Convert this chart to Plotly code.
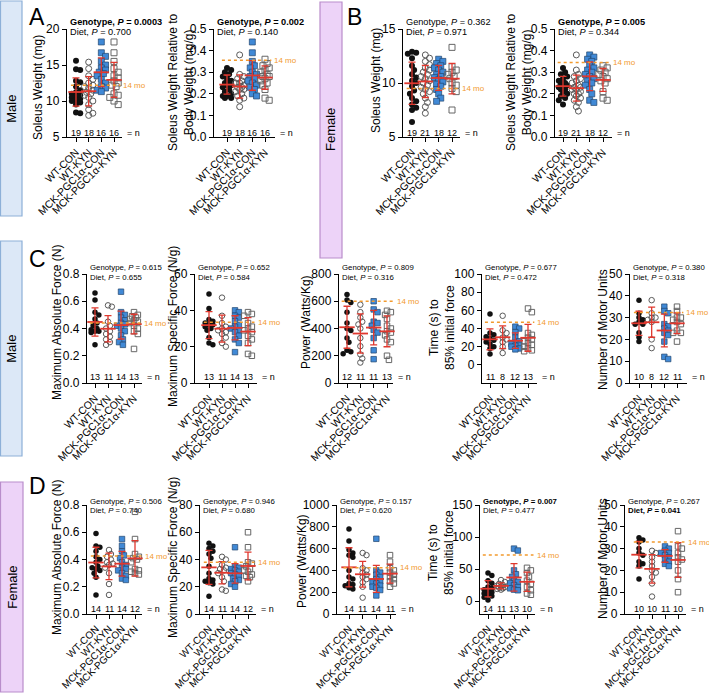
import numpy as np
import plotly.graph_objects as go

W, H = 709, 694
FONT = "Arial, Liberation Sans, sans-serif"
groups = ["WT-CON", "WT-KYN", "MCK-PGC1α-CON", "MCK-PGC1α-KYN"]

# ---------------- data ----------------
male_soleus_mg = [
    [15.6, 14.4, 14.3, 12.8, 12.6, 12.0, 11.5, 11.2, 11.0, 10.8, 10.6, 10.5, 10.3, 10.1, 10.0, 9.8, 9.5, 8.4, 8.3],
    [15.4, 14.5, 13.5, 13.0, 12.5, 12.2, 12.0, 11.8, 11.5, 11.2, 11.0, 10.8, 10.5, 10.0, 9.5, 8.8, 8.3, 8.0],
    [18.2, 16.7, 16.2, 15.5, 15.0, 14.6, 14.3, 14.0, 13.8, 13.5, 13.0, 12.5, 12.0, 11.8, 11.5, 11.3],
    [18.2, 16.7, 15.5, 14.5, 14.0, 13.5, 13.2, 12.8, 12.5, 12.2, 12.0, 11.0, 10.8, 10.5, 10.0, 9.5],
]
male_soleus_rel = [
    [0.32, 0.31, 0.30, 0.29, 0.28, 0.27, 0.26, 0.25, 0.25, 0.24, 0.24, 0.23, 0.22, 0.21, 0.20, 0.19, 0.19, 0.18, 0.18],
    [0.38, 0.29, 0.28, 0.27, 0.26, 0.25, 0.25, 0.24, 0.23, 0.23, 0.22, 0.22, 0.21, 0.20, 0.19, 0.18, 0.17, 0.14],
    [0.44, 0.39, 0.35, 0.33, 0.32, 0.30, 0.29, 0.28, 0.27, 0.26, 0.25, 0.24, 0.23, 0.22, 0.20, 0.19],
    [0.36, 0.34, 0.33, 0.32, 0.31, 0.30, 0.29, 0.28, 0.28, 0.27, 0.26, 0.25, 0.24, 0.22, 0.18, 0.17],
]
female_soleus_mg = [
    [12.9, 12.8, 12.7, 12.3, 11.6, 11.2, 10.8, 10.5, 10.2, 10.0, 9.7, 9.3, 9.0, 8.6, 8.3, 8.0, 7.7, 7.5, 6.4],
    [12.6, 12.3, 12.0, 11.7, 11.4, 11.2, 11.0, 10.8, 10.6, 10.4, 10.2, 10.0, 9.8, 9.6, 9.4, 9.2, 9.0, 8.6, 8.2, 7.8, 7.2],
    [12.2, 12.0, 11.8, 11.6, 11.4, 11.2, 11.0, 10.8, 10.6, 10.5, 10.3, 10.1, 9.9, 9.7, 9.4, 9.0, 8.6, 8.3],
    [13.3, 11.5, 11.2, 11.0, 10.8, 10.6, 10.4, 10.0, 9.8, 9.5, 9.2, 7.5],
]
female_soleus_rel = [
    [0.32, 0.30, 0.29, 0.28, 0.27, 0.26, 0.25, 0.25, 0.24, 0.24, 0.23, 0.22, 0.22, 0.21, 0.20, 0.19, 0.18, 0.17, 0.15],
    [0.38, 0.31, 0.29, 0.28, 0.27, 0.26, 0.25, 0.24, 0.23, 0.23, 0.22, 0.22, 0.21, 0.20, 0.20, 0.19, 0.18, 0.17, 0.16, 0.14, 0.12],
    [0.38, 0.37, 0.36, 0.35, 0.33, 0.32, 0.31, 0.30, 0.29, 0.28, 0.27, 0.26, 0.25, 0.24, 0.22, 0.20, 0.17, 0.16],
    [0.33, 0.32, 0.31, 0.30, 0.29, 0.28, 0.27, 0.26, 0.25, 0.21, 0.18, 0.17],
]
male_abs_force = [
    [0.66, 0.61, 0.50, 0.52, 0.47, 0.44, 0.42, 0.40, 0.39, 0.38, 0.38, 0.37, 0.28],
    [0.57, 0.56, 0.45, 0.42, 0.40, 0.38, 0.36, 0.34, 0.32, 0.30, 0.28],
    [0.67, 0.52, 0.50, 0.48, 0.46, 0.44, 0.43, 0.42, 0.40, 0.38, 0.35, 0.32, 0.30, 0.28],
    [0.52, 0.50, 0.49, 0.48, 0.47, 0.46, 0.45, 0.44, 0.42, 0.40, 0.38, 0.36, 0.25],
]
male_spec_force = [
    [49, 41, 35, 34, 33, 32, 32, 31, 30, 29, 25, 22, 21],
    [47, 37, 33, 31, 30, 29, 28, 27, 25, 22, 20],
    [40, 39, 37, 36, 34, 32, 31, 30, 29, 28, 26, 24, 22, 17],
    [39, 38, 37, 33, 31, 30, 29, 28, 26, 24, 22, 16, 15],
]
male_power = [
    [650, 610, 590, 520, 440, 400, 385, 330, 300, 240, 230, 215],
    [575, 520, 480, 450, 430, 400, 330, 270, 210, 180, 150],
    [600, 540, 520, 450, 440, 420, 390, 370, 330, 240, 175],
    [530, 520, 500, 470, 420, 400, 380, 370, 350, 320, 300, 200, 170],
]
male_time85 = [
    [56, 35, 33, 31, 29, 27, 25, 23, 20, 18, 12],
    [54, 38, 35, 30, 28, 25, 20, 13],
    [42, 40, 36, 30, 26, 24, 23, 22, 21, 20, 18, 17],
    [62, 58, 35, 33, 30, 28, 26, 24, 22, 20, 18, 16, 15],
]
male_motor_units = [
    [38, 32, 30, 29, 28, 27, 27, 23, 21, 19],
    [38, 32, 30, 30, 29, 28, 20, 16],
    [35, 33, 32, 27, 26, 25, 24, 23, 22, 19, 12, 11],
    [35, 33, 30, 30, 29, 28, 27, 24, 23, 23, 19],
]
female_abs_force = [
    [0.59, 0.50, 0.49, 0.46, 0.42, 0.40, 0.38, 0.35, 0.34, 0.33, 0.32, 0.30, 0.27, 0.14],
    [0.47, 0.44, 0.42, 0.40, 0.38, 0.37, 0.36, 0.34, 0.30, 0.22, 0.14],
    [0.55, 0.50, 0.46, 0.43, 0.41, 0.38, 0.36, 0.34, 0.33, 0.32, 0.30, 0.28, 0.26, 0.25],
    [0.75, 0.55, 0.44, 0.42, 0.41, 0.40, 0.38, 0.33, 0.32, 0.31, 0.30, 0.29],
]
female_spec_force = [
    [52, 50, 48, 46, 44, 41, 35, 30, 26, 25, 24, 23, 22, 13],
    [42, 40, 36, 34, 33, 32, 30, 27, 24, 18, 17],
    [49, 35, 34, 33, 32, 31, 30, 29, 28, 26, 25, 24, 22, 20],
    [60, 49, 38, 37, 35, 33, 32, 31, 29, 28, 27, 24],
]
female_power = [
    [780, 670, 590, 560, 540, 520, 400, 340, 320, 280, 270, 260, 240, 230],
    [560, 540, 420, 400, 380, 360, 340, 320, 290, 250, 150],
    [690, 400, 380, 360, 340, 320, 300, 290, 280, 260, 250, 240, 220, 170],
    [540, 480, 420, 400, 380, 360, 340, 320, 300, 280, 250],
]
female_time85 = [
    [44, 40, 32, 28, 22, 20, 18, 16, 14, 12, 10, 8, 6, 2],
    [33, 30, 27, 25, 24, 23, 22, 21, 20, 19, 18],
    [82, 79, 48, 42, 38, 32, 30, 28, 25, 22, 20, 18, 17],
    [52, 48, 44, 38, 32, 27, 22, 17, 12, 10],
]
female_motor_units = [
    [35, 34, 33, 30, 28, 27, 24, 23, 22, 16],
    [29, 28, 26, 24, 22, 20, 19, 17, 14, 8],
    [31, 30, 29, 28, 28, 27, 26, 25, 24, 23, 22],
    [38, 31, 30, 28, 26, 25, 24, 20, 16, 10],
]

ref_14mo = [12.2, 0.355, 9.5, 0.345, 0.44, 33.5, 600, 47, 32.3, 0.425, 38, 425, 72, 33]
p_genotype = ["0.0003", "0.002", "0.362", "0.005", "0.615", "0.652", "0.809", "0.677", "0.380",
              "0.506", "0.946", "0.157", "0.007", "0.267"]
p_diet = ["0.700", "0.140", "0.971", "0.344", "0.655", "0.584", "0.316", "0.472", "0.318",
          "0.740", "0.680", "0.620", "0.477", "0.041"]
genotype_bold = [True, True, False, True, False, False, False, False, False, False, False, False, True, False]
diet_bold = [False] * 13 + [True]
y_titles = ["Soleus Weight (mg)", "Soleus Weight Relative to<br>Body Weight (mg/g)",
            "Soleus Weight (mg)", "Soleus Weight Relative to<br>Body Weight (mg/g)",
            "Maximum Absolute Force (N)", "Maximum Specific Force (N/g)", "Power (Watts/Kg)",
            "Time (s) to<br>85% initial force", "Number of Motor Units",
            "Maximum Absolute Force (N)", "Maximum Specific Force (N/g)", "Power (Watts/Kg)",
            "Time (s) to<br>85% initial force", "Number of Motor Units"]
datasets = [male_soleus_mg, male_soleus_rel, female_soleus_mg, female_soleus_rel,
            male_abs_force, male_spec_force, male_power, male_time85, male_motor_units,
            female_abs_force, female_spec_force, female_power, female_time85, female_motor_units]

# ---------------- layout specs (pixels) ----------------
def ticks(a, b, s, fmt):
    v = np.arange(a, b + s / 2, s)
    return list(v), [fmt.format(t) for t in v]

rowA = dict(yt=29, yb=137, l1=22, l2=32, ny=133, pf=9.2, ms=6.0, xf=10.5)
rowC = dict(yt=274, yb=383, l1=267, l2=277, ny=377, pf=7.8, ms=5.5, xf=10.5)
rowD = dict(yt=505, yb=614, l1=501, l2=510, ny=609, pf=7.8, ms=5.5, xf=10.0)
specs = [
    dict(row=rowA, x0=67, x1=122, c0=76, c3=114, yr=[5, 20], tk=ticks(5, 20, 5, "{:.0f}"), tc=(38, 88)),
    dict(row=rowA, x0=214, x1=275, c0=227, c3=265, yr=[0, 0.5], tk=ticks(0, 0.5, 0.1, "{:.1f}"), tc=(181, 82)),
    dict(row=rowA, x0=403, x1=460, c0=412, c3=452, yr=[5, 15], tk=ticks(5, 15, 5, "{:.0f}"), tc=(376, 80)),
    dict(row=rowA, x0=555, x1=612, c0=563, c3=603, yr=[0, 0.5], tk=ticks(0, 0.5, 0.1, "{:.1f}"), tc=(519, 82)),
    dict(row=rowC, x0=87, x1=142, c0=95, c3=134, yr=[0, 0.8], tk=ticks(0, 0.8, 0.2, "{:.1f}"), tc=(57, 323)),
    dict(row=rowC, x0=195, x1=257, c0=209, c3=248, yr=[0, 60], tk=ticks(0, 60, 20, "{:.0f}"), tc=(173, 327)),
    dict(row=rowC, x0=339, x1=393, c0=347, c3=387, yr=[0, 800], tk=ticks(0, 800, 200, "{:.0f}"), tc=(306, 322)),
    dict(row=rowC, x0=482, x1=537, c0=490, c3=528, yr=[-20, 100], tk=ticks(0, 100, 20, "{:.0f}"), tc=(442, 328)),
    dict(row=rowC, x0=630, x1=687, c0=639, c3=677, yr=[0, 50], tk=ticks(0, 50, 10, "{:.0f}"), tc=(603, 330)),
    dict(row=rowD, x0=87, x1=142, c0=96, c3=135, yr=[0, 0.8], tk=ticks(0, 0.8, 0.2, "{:.1f}"), tc=(57, 558)),
    dict(row=rowD, x0=200, x1=256, c0=209, c3=248, yr=[0, 80], tk=ticks(0, 80, 20, "{:.0f}"), tc=(173, 558)),
    dict(row=rowD, x0=337, x1=396, c0=349, c3=390, yr=[0, 1000], tk=ticks(0, 1000, 200, "{:.0f}"), tc=(302, 561)),
    dict(row=rowD, x0=480, x1=535, c0=488, c3=527, yr=[-20, 150], tk=ticks(0, 150, 50, "{:.0f}"), tc=(441, 553)),
    dict(row=rowD, x0=625, x1=686, c0=639, c3=678, yr=[0, 50], tk=ticks(0, 50, 10, "{:.0f}"), tc=(603, 559)),
]

RED = "#E0382E"
ORANGE = "#F29A2E"
marker_styles = [
    dict(symbol="circle", color="#111111", line=dict(width=0)),
    dict(symbol="circle-open", color="#5a5a5a", line=dict(width=1.0)),
    dict(symbol="square", color="#4089D6", line=dict(color="#23466e", width=0.7)),
    dict(symbol="square-open", color="#666666", line=dict(width=1.0)),
]


def swarm(ypx, d, maxoff):
    order = np.argsort(-ypx)
    placed = []
    offs = np.zeros(len(ypx))
    cands = [0.0]
    for j in range(1, 8):
        cands += [j * d * 0.35, -j * d * 0.35]
    cands = [c for c in cands if abs(c) <= maxoff]
    for idx in order:
        y = ypx[idx]
        chosen = None
        for c in cands:
            if all((c - ox) ** 2 + (y - oy) ** 2 >= (0.75 * d) ** 2 for ox, oy in placed):
                chosen = c
                break
        if chosen is None:
            chosen = max(cands, key=lambda c: min((c - ox) ** 2 + (y - oy) ** 2 for ox, oy in placed))
        placed.append((chosen, y))
        offs[idx] = chosen
    return offs


fig = go.Figure()
annotations = []
shapes = []
lay = {}


def ann(x, y, text, size, xanchor="center", yanchor="middle", angle=0, color="black"):
    annotations.append(dict(x=x / W, y=1 - y / H, xref="paper", yref="paper", text=text, showarrow=False,
                            xanchor=xanchor, yanchor=yanchor, textangle=angle,
                            font=dict(family=FONT, size=size, color=color)))


for i, sp in enumerate(specs):
    k = i + 1
    sx = "" if k == 1 else str(k)
    row = sp["row"]
    x0, x1, c0, c3 = sp["x0"], sp["x1"], sp["c0"], sp["c3"]
    yt, yb = row["yt"], row["yb"]
    ppc = (c3 - c0) / 3.0
    xr = [-(c0 - x0) / ppc, 3 + (x1 - c3) / ppc]
    yr = sp["yr"]
    pxu = (yb - yt) / (yr[1] - yr[0])
    ms = row["ms"]
    data = datasets[i]

    def ypix(v):
        return yb - (v - yr[0]) * pxu

    for g in range(4):
        vals = np.array(data[g], dtype=float)
        offs = swarm(vals * pxu, ms, 4.2) / ppc
        st = marker_styles[g]
        fig.add_trace(go.Scatter(
            x=g + offs, y=vals, mode="markers", xaxis="x" + sx, yaxis="y" + sx,
            marker=dict(symbol=st["symbol"], size=ms, color=st["color"], line=st["line"]),
            showlegend=False, hoverinfo="skip", cliponaxis=False))
    means = [float(np.mean(d)) for d in data]
    sds = [float(np.std(d, ddof=1)) for d in data]
    fig.add_trace(go.Scatter(
        x=[0, 1, 2, 3], y=means, mode="markers", xaxis="x" + sx, yaxis="y" + sx,
        marker=dict(symbol="line-ew", size=11, color=RED, line=dict(color=RED, width=1.8)),
        error_y=dict(type="data", array=sds, color=RED, thickness=1.3, width=3.5),
        showlegend=False, hoverinfo="skip", cliponaxis=False))

    lay["xaxis" + sx] = dict(domain=[x0 / W, x1 / W], range=xr, anchor="y" + sx, automargin=False,
                             tickvals=[0, 1, 2, 3], ticktext=groups, tickangle=-45,
                             showline=True, linecolor="black", linewidth=1.4,
                             ticks="outside", ticklen=4, tickwidth=1.4, tickcolor="black",
                             showgrid=False, zeroline=False, fixedrange=True,
                             tickfont=dict(family=FONT, size=row["xf"], color="black"))
    lay["yaxis" + sx] = dict(domain=[1 - yb / H, 1 - yt / H], range=yr, anchor="x" + sx, automargin=False,
                             tickvals=sp["tk"][0], ticktext=sp["tk"][1],
                             showline=True, linecolor="black", linewidth=1.4,
                             ticks="outside", ticklen=4, tickwidth=1.4, tickcolor="black",
                             showgrid=False, zeroline=False, fixedrange=True,
                             tickfont=dict(family=FONT, size=12, color="black"))

    # 14 mo reference line
    ry = ypix(ref_14mo[i])
    lx0 = c0 - 0.4 * ppc
    lx1 = c0 + 3.5 * ppc
    shapes.append(dict(type="line", xref="paper", yref="paper", x0=lx0 / W, x1=lx1 / W,
                       y0=1 - ry / H, y1=1 - ry / H, line=dict(color=ORANGE, width=1.5, dash="dot")))
    ann(lx1 + 1, ry, "14 mo", 8, xanchor="left", color=ORANGE)

    # n labels
    for g in range(4):
        ann(c0 + g * ppc, row["ny"], str(len(data[g])), 9, yanchor="middle")
    ann(x1 + 3, row["ny"], "= n", 9, xanchor="left")

    # P value texts
    gt = "Genotype, <i>P</i> = " + p_genotype[i]
    dt = "Diet, <i>P</i> = " + p_diet[i]
    if genotype_bold[i]:
        gt = "<b>" + gt + "</b>"
    if diet_bold[i]:
        dt = "<b>" + dt + "</b>"
    ann(x0 + 1, row["l1"], gt, row["pf"], xanchor="left")
    ann(x0 + 1, row["l2"], dt, row["pf"], xanchor="left")

    # y-axis title
    ann(sp["tc"][0], sp["tc"][1], y_titles[i], 12, angle=-90)

# panel letters
for letter, (lx, ly) in zip("ABCD", [(37, 17), (354, 17), (37, 259), (37, 486)]):
    ann(lx, ly, letter, 23)

# sex label boxes
boxes = [("Male", 0.5, 22, 1, 216, "#DCE8F7", "#8DB0D8"),
         ("Female", 320, 342, 2, 258, "#EDD3F8", "#B98DCB"),
         ("Male", 0.5, 22, 241, 456, "#DCE8F7", "#8DB0D8"),
         ("Female", 0.5, 23, 482, 692, "#EDD3F8", "#B98DCB")]
for txt, bx0, bx1, by0, by1, fc, lc in boxes:
    shapes.append(dict(type="rect", xref="paper", yref="paper", x0=bx0 / W, x1=bx1 / W,
                       y0=1 - by1 / H, y1=1 - by0 / H, fillcolor=fc, line=dict(color=lc, width=1.2),
                       layer="below"))
    ann((bx0 + bx1) / 2, (by0 + by1) / 2, txt, 13, angle=-90)

fig.update_layout(width=W, height=H, margin=dict(l=0, r=0, t=0, b=0, autoexpand=False),
                  paper_bgcolor="white", plot_bgcolor="rgba(0,0,0,0)",
                  showlegend=False, annotations=annotations, shapes=shapes,
                  font=dict(family=FONT, color="black"), **lay)
fig.write_html("out.html")
